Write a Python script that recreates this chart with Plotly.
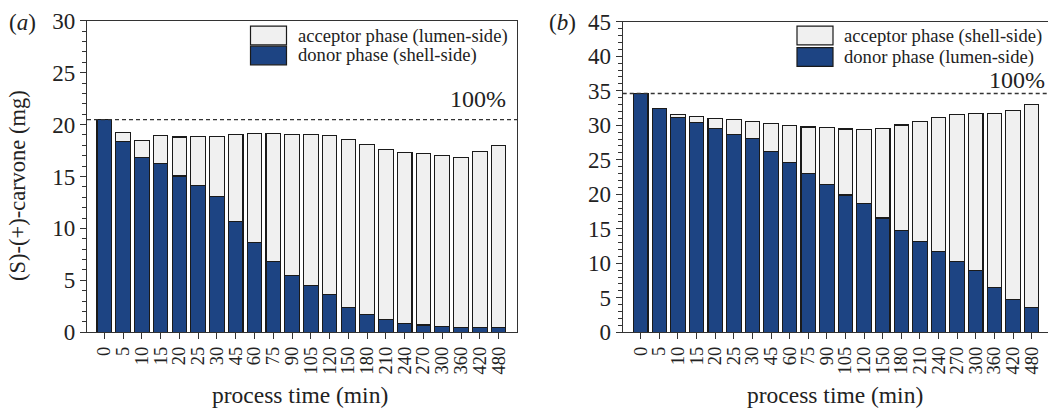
import plotly.graph_objects as go

# process times (min) shared by both experiments
times = ["0", "5", "10", "15", "20", "25", "30", "45", "60", "75", "90",
         "105", "120", "150", "180", "210", "240", "270", "300", "360", "420", "480"]

# (a) donor on shell side, acceptor on lumen side: carvone mass (mg)
a_donor = [20.48, 18.34, 16.8, 16.26, 15.05, 14.1, 13.1, 10.7, 8.65, 6.86, 5.5,
           4.5, 3.65, 2.4, 1.7, 1.2, 0.85, 0.7, 0.58, 0.5, 0.48, 0.45]
a_total = [20.48, 19.2, 18.47, 18.95, 18.8, 18.85, 18.85, 19.07, 19.14, 19.14, 19.07,
           19.04, 18.95, 18.56, 18.08, 17.6, 17.3, 17.2, 17.0, 16.8, 17.4, 18.0]

# (b) donor on lumen side, acceptor on shell side: carvone mass (mg)
b_donor = [34.6, 32.4, 31.09, 30.35, 29.56, 28.7, 28.03, 26.17, 24.6, 23.0, 21.36,
           19.9, 18.7, 16.56, 14.8, 13.1, 11.67, 10.2, 8.9, 6.44, 4.8, 3.63]
b_total = [34.6, 32.4, 31.56, 31.3, 31.03, 30.8, 30.6, 30.28, 30.0, 29.75, 29.7,
           29.46, 29.4, 29.56, 30.04, 30.6, 31.1, 31.5, 31.7, 31.66, 32.2, 33.0]

a_acceptor = [round(t - d, 3) for t, d in zip(a_total, a_donor)]
b_acceptor = [round(t - d, 3) for t, d in zip(b_total, b_donor)]

legend_a = ["acceptor phase (lumen-side)", "donor phase (shell-side)"]
legend_b = ["acceptor phase (shell-side)", "donor phase (lumen-side)"]

BLUE = "#1d4483"
LIGHT = "#f0f0f0"
EDGE = "#1a1a1a"
AXIS = "#333333"
TXT = "#222222"
SERIF = "Liberation Serif, Times New Roman, serif"

W, H = 1048, 408
xpos = list(range(len(times)))

fig = go.Figure()


def add_panel(xa, ya, donor, acceptor):
    fig.add_trace(go.Bar(x=xpos, y=donor, xaxis=xa, yaxis=ya, width=0.78,
                         marker=dict(color=BLUE, line=dict(color=EDGE, width=1.1)),
                         showlegend=False))
    fig.add_trace(go.Bar(x=xpos, y=acceptor, xaxis=xa, yaxis=ya, width=0.78,
                         marker=dict(color=LIGHT, line=dict(color=EDGE, width=1.1)),
                         showlegend=False))


add_panel("x", "y", a_donor, a_acceptor)
add_panel("x2", "y2", b_donor, b_acceptor)

# plot-area geometry in pixels
ax_a = dict(x0=87, x1=517, y0=20.7, y1=332.3)
ax_b = dict(x0=622.7, x1=1048, y0=21.7, y1=332.3)

xcommon = dict(tickmode="array", tickvals=xpos, ticktext=times, tickangle=-90,
               ticks="outside", ticklen=6, tickwidth=1.2, tickcolor=AXIS,
               showline=True, linecolor=AXIS, linewidth=1.3, showgrid=False,
               zeroline=False, tickfont=dict(family=SERIF, size=18.5, color=TXT),
               automargin=False)
ycommon = dict(ticks="outside", ticklen=6, tickwidth=1.2, tickcolor=AXIS,
               showline=True, linecolor=AXIS, linewidth=1.3, showgrid=False,
               zeroline=False, tickfont=dict(family=SERIF, size=23, color=TXT),
               automargin=False,
               minor=dict(ticks="outside", ticklen=4, tickwidth=1, tickcolor=AXIS))

fig.update_layout(
    width=W, height=H, margin=dict(l=0, r=0, t=0, b=0),
    paper_bgcolor="white", plot_bgcolor="white", barmode="stack", bargap=0.22,
    xaxis=dict(domain=[ax_a["x0"] / W, ax_a["x1"] / W], range=[-0.92, 21.98],
               mirror=True, anchor="y", **xcommon),
    yaxis=dict(domain=[1 - ax_a["y1"] / H, 1 - ax_a["y0"] / H], range=[0, 30],
               dtick=5, mirror=True, anchor="x", **ycommon),
    xaxis2=dict(domain=[ax_b["x0"] / W, 1.0], range=[-0.97, 21.88],
                mirror=True, anchor="y2", **xcommon),
    yaxis2=dict(domain=[1 - ax_b["y1"] / H, 1 - ax_b["y0"] / H], range=[0, 45],
                dtick=5, mirror=False, anchor="x2", **ycommon),
)

# 100 % reference lines at the initial load
fig.add_shape(type="line", xref="x domain", yref="y", x0=0, x1=1,
              y0=a_total[0], y1=a_total[0],
              line=dict(color=AXIS, width=1.4, dash="4px,3px"))
fig.add_shape(type="line", xref="x2 domain", yref="y2", x0=0, x1=1,
              y0=b_total[0], y1=b_total[0],
              line=dict(color=AXIS, width=1.4, dash="4px,3px"))


def px_ann(text, x, y, size, xanchor="center", yanchor="middle", angle=0):
    fig.add_annotation(text=text, xref="paper", yref="paper", x=x / W, y=1 - y / H,
                       xanchor=xanchor, yanchor=yanchor, showarrow=False,
                       textangle=angle, font=dict(family=SERIF, size=size, color=TXT))


px_ann("100%", 508, 99, 24, xanchor="right")
px_ann("100%", 1047, 80, 24, xanchor="right")

# panel letters
px_ann("(<i>a</i>)", 7, 22, 23, xanchor="left")
px_ann("(<i>b</i>)", 547, 22, 23, xanchor="left")

# axis titles
px_ann("(S)-(+)-carvone (mg)", 18, 186, 22.5, angle=-90)
px_ann("process time (min)", 300, 395, 23.5)
px_ann("process time (min)", 835, 395, 23.5)


# legends drawn as framed swatches with labels
def legend(x0, labels, rows=(35.5, 55.5)):
    for lab, yc, fill in zip(labels, rows, (LIGHT, BLUE)):
        fig.add_shape(type="rect", xref="paper", yref="paper",
                      x0=x0 / W, x1=(x0 + 36) / W,
                      y0=1 - (yc + 9.3) / H, y1=1 - (yc - 9.3) / H,
                      fillcolor=fill, line=dict(color=EDGE, width=1.2))
        px_ann(lab, x0 + 45, yc, 18.6, xanchor="left")


legend(250.5, legend_a)
legend(797, legend_b, rows=(35.5, 57))

fig.write_html("out.html")
